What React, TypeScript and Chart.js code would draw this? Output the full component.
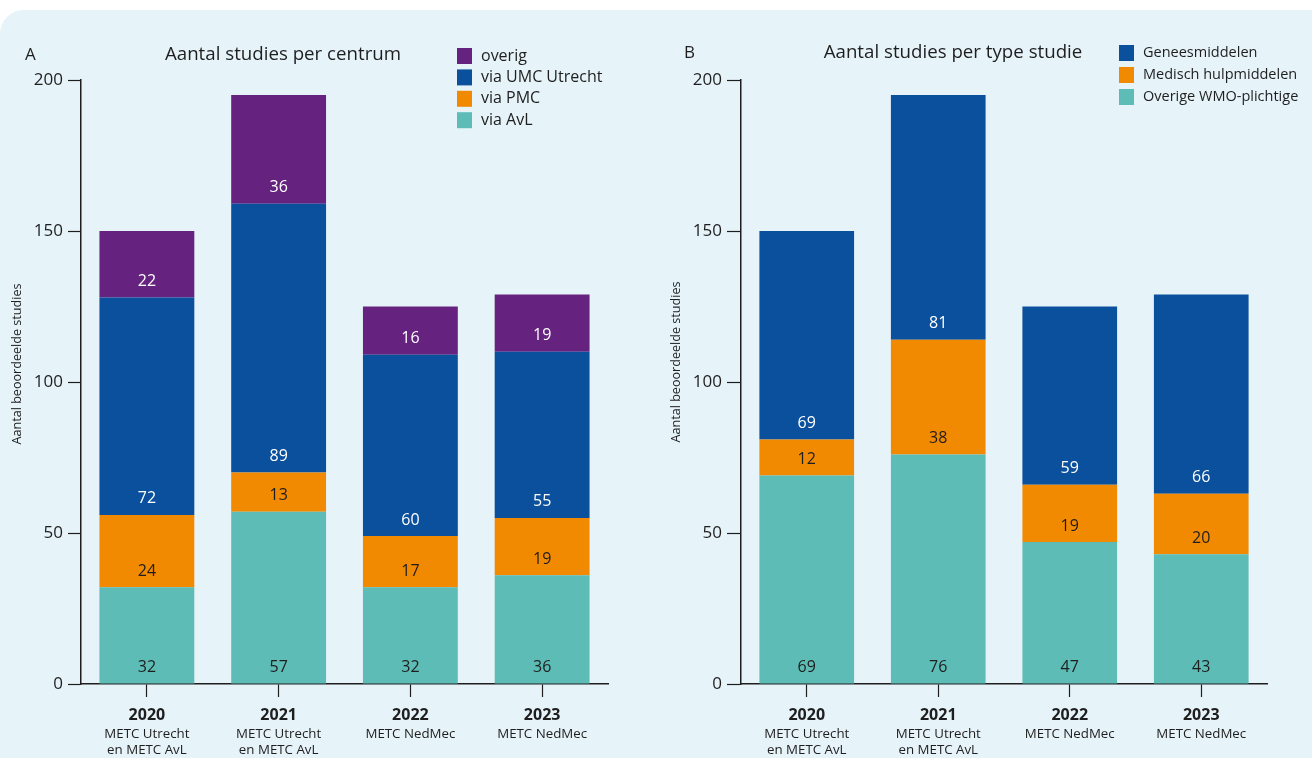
import React, { useEffect, useRef } from "react";
import { Chart, registerables } from "chart.js";

Chart.register(...registerables);

// ---- data ----
const years = ["2020", "2021", "2022", "2023"];
const committees = [
  ["METC Utrecht", "en METC AvL"],
  ["METC Utrecht", "en METC AvL"],
  ["METC NedMec"],
  ["METC NedMec"],
];
const yMin = 0;
const yMax = 200;
const yStep = 50;
const yAxisTitle = "Aantal beoordeelde studies";

// Panel A: per centrum
const titleA = "Aantal studies per centrum";
const viaAvL = [32, 57, 32, 36];
const viaPMC = [24, 13, 17, 19];
const viaUMC = [72, 89, 60, 55];
const overig = [22, 36, 16, 19];

// Panel B: per type studie
const titleB = "Aantal studies per type studie";
const overigeWMO = [69, 76, 47, 43];
const hulpmiddelen = [12, 38, 19, 20];
const geneesmiddelen = [69, 81, 59, 66];

// ---- style ----
const FONT = "'Open Sans', 'Noto Sans', sans-serif";
const PURPLE = "#65237f";
const BLUE = "#0a509c";
const ORANGE = "#f18a00";
const TEAL = "#5dbcb5";
const AXIS = "#1e1e1e";
const TEXT = "#1e1e1e";
const BG = "#e6f3f9";

const panelPlugin = {
  id: "panelText",
  afterDatasetsDraw(chart: any) {
    const ctx = chart.ctx;
    ctx.save();
    // value labels
    ctx.font = `16px ${FONT}`;
    ctx.textAlign = "center";
    ctx.textBaseline = "middle";
    chart.data.datasets.forEach((ds: any, i: number) => {
      const meta = chart.getDatasetMeta(i);
      meta.data.forEach((el: any, j: number) => {
        ctx.fillStyle = ds.valueColor;
        ctx.fillText(String(ds.data[j]), el.x, el.base - 16);
      });
    });
    ctx.restore();
  },
  afterDraw(chart: any, _args: any, opts: any) {
    const ctx = chart.ctx;
    ctx.save();
    ctx.fillStyle = TEXT;
    ctx.textBaseline = "middle";
    // letter
    ctx.font = `17px ${FONT}`;
    ctx.textAlign = "left";
    ctx.fillText(opts.letter, opts.letterX, opts.titleY);
    // title
    ctx.font = `18.7px ${FONT}`;
    ctx.textAlign = "center";
    ctx.fillText(opts.title, opts.titleX, opts.titleY);
    // y axis title
    ctx.save();
    ctx.translate(opts.yTitleX, opts.yTitleY);
    ctx.rotate(-Math.PI / 2);
    ctx.font = `12.6px ${FONT}`;
    ctx.textAlign = "center";
    ctx.fillText(yAxisTitle, 0, 0);
    ctx.restore();
    // legend (top = last dataset)
    const ds = [...chart.data.datasets].reverse();
    ctx.font = `${opts.legendFont}px ${FONT}`;
    ctx.textAlign = "left";
    ds.forEach((d: any, k: number) => {
      const cy = opts.legendY + k * opts.legendStep;
      ctx.fillStyle = d.backgroundColor;
      ctx.fillRect(opts.legendX, cy - 8, 15, 16);
      ctx.fillStyle = TEXT;
      ctx.fillText(d.label, opts.legendX + 24, cy);
    });
    ctx.restore();
  },
};

type DS = { label: string; data: number[]; color: string; valueColor: string };

function makeChart(canvas: HTMLCanvasElement, cfg: any) {
  const datasets = (cfg.datasets as DS[]).map((d) => ({
    label: d.label,
    data: d.data,
    backgroundColor: d.color,
    valueColor: d.valueColor,
    borderWidth: 0,
    barPercentage: 0.72,
    categoryPercentage: 1,
  }));
  return new Chart(canvas, {
    type: "bar",
    data: { labels: years, datasets },
    options: {
      responsive: false,
      animation: false,
      devicePixelRatio: 1,
      layout: { padding: { left: 0, right: cfg.padRight, top: 80, bottom: 0 } },
      plugins: {
        legend: { display: false },
        tooltip: { enabled: false },
        panelText: cfg.text,
      } as any,
      scales: {
        x: {
          stacked: true,
          offset: true,
          grid: {
            display: true,
            drawOnChartArea: false,
            drawTicks: true,
            tickLength: 13,
            tickColor: AXIS,
            tickWidth: 1.2,
            offset: false,
          },
          border: { display: true, color: AXIS, width: 1.5 },
          ticks: {
            color: TEXT,
            font: { family: FONT, size: 16, weight: "bold" },
            padding: 9,
            maxRotation: 0,
            autoSkip: false,
          },
          afterFit: (s: any) => {
            s.height = 39;
          },
        },
        x2: {
          type: "category",
          position: "bottom",
          labels: committees as any,
          offset: true,
          grid: { display: false, drawTicks: false },
          border: { display: false },
          ticks: {
            color: TEXT,
            font: { family: FONT, size: 13.3, lineHeight: 1.2 },
            padding: 3,
            maxRotation: 0,
            autoSkip: false,
          },
          afterFit: (s: any) => {
            s.height = 35;
          },
        },
        y: {
          stacked: true,
          min: yMin,
          max: yMax,
          ticks: {
            stepSize: yStep,
            color: TEXT,
            font: { family: FONT, size: 17 },
            padding: 5,
          },
          grid: {
            drawOnChartArea: false,
            drawTicks: true,
            tickLength: cfg.tickLen,
            tickColor: AXIS,
            tickWidth: 1.2,
          },
          border: { display: true, color: AXIS, width: 1.5 },
          title: { display: false },
          afterFit: (s: any) => {
            s.width = cfg.yWidth;
          },
        },
      } as any,
    },
    plugins: [panelPlugin as any],
  });
}

function Panel(props: { left: number; cfg: any }) {
  const ref = useRef<HTMLCanvasElement | null>(null);
  useEffect(() => {
    if (!ref.current) return;
    const chart = makeChart(ref.current, props.cfg);
    return () => chart.destroy();
  }, []);
  return (
    <div style={{ position: "absolute", left: props.left, top: 0, width: 656, height: 758 }}>
      <canvas ref={ref} width={656} height={758} style={{ display: "block" }} />
    </div>
  );
}

const cfgA = {
  padRight: 48,
  yWidth: 81,
  tickLen: 13,
  datasets: [
    { label: "via AvL", data: viaAvL, color: TEAL, valueColor: TEXT },
    { label: "via PMC", data: viaPMC, color: ORANGE, valueColor: TEXT },
    { label: "via UMC Utrecht", data: viaUMC, color: BLUE, valueColor: "#ffffff" },
    { label: "overig", data: overig, color: PURPLE, valueColor: "#ffffff" },
  ],
  text: {
    letter: "A",
    letterX: 25,
    title: titleA,
    titleX: 283,
    titleY: 55,
    yTitleX: 17,
    yTitleY: 364,
    legendX: 457,
    legendY: 56,
    legendStep: 21.4,
    legendFont: 16,
  },
};

const cfgB = {
  padRight: 45,
  yWidth: 85,
  tickLen: 14,
  datasets: [
    { label: "Overige WMO-plichtige", data: overigeWMO, color: TEAL, valueColor: TEXT },
    { label: "Medisch hulpmiddelen", data: hulpmiddelen, color: ORANGE, valueColor: TEXT },
    { label: "Geneesmiddelen", data: geneesmiddelen, color: BLUE, valueColor: "#ffffff" },
  ],
  text: {
    letter: "B",
    letterX: 28,
    title: titleB,
    titleX: 297,
    titleY: 53,
    yTitleX: 20,
    yTitleY: 362,
    legendX: 463,
    legendY: 53,
    legendStep: 22,
    legendFont: 14.5,
  },
};

export default function App() {
  return (
    <div style={{ position: "absolute", left: 0, top: 0, width: 1312, height: 758, background: "#ffffff", overflow: "hidden" }}>
      <div
        style={{
          position: "absolute",
          left: 0,
          top: 10,
          width: 1312,
          height: 748,
          background: BG,
          borderTopLeftRadius: 24,
        }}
      />
      <Panel left={0} cfg={cfgA} />
      <Panel left={656} cfg={cfgB} />
    </div>
  );
}
